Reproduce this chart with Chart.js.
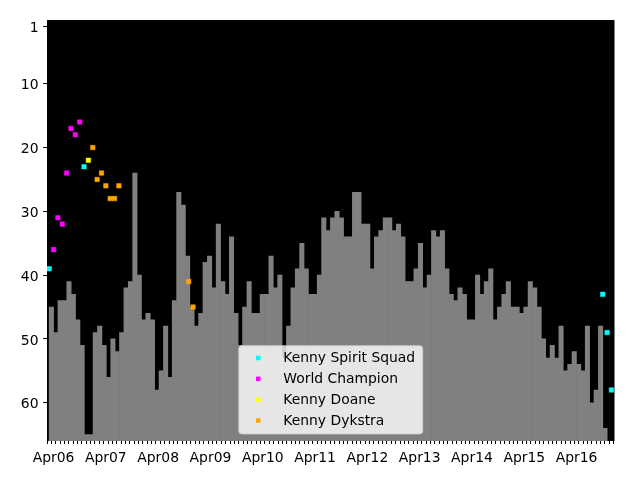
<!DOCTYPE html>
<html>
<head>
<meta charset="utf-8">
<script src="https://cdn.jsdelivr.net/npm/chart.js@4.4.0/dist/chart.umd.min.js"></script>
<style>
  html, body { margin: 0; padding: 0; background: #fff; }
  #wrap { width: 640px; height: 480px; }
</style>
</head>
<body>
<div id="wrap"><canvas id="chart" width="640" height="480"></canvas></div>
<script>
// rank per period, first period starts Mar 2006
const rankBars = [
  45, 49, 44, 44, 41, 43, 47, 51, 65, 65, 49, 48, 51, 56, 50, 52, 49, 42, 41, 24,
  40, 47, 46, 47, 58, 55, 48, 56, 44, 27, 29, 37, 45, 48, 46, 38, 37, 42, 32, 41,
  43, 34, 46, 51, 45, 41, 46, 46, 43, 43, 37, 42, 40, 53, 48, 42, 39, 35, 39, 43,
  43, 40, 31, 33, 31, 30, 31, 34, 34, 27, 27, 32, 32, 39, 34, 33, 31, 31, 33, 32,
  34, 41, 41, 39, 35, 42, 40, 33, 34, 33, 39, 43, 44, 42, 43, 47, 47, 40, 43,
  41, 39, 47, 45, 43, 41, 45, 45, 46, 45, 41, 42, 45, 50, 53, 51, 53, 48, 55, 54,
  52, 54, 55, 48, 60, 58, 48, 64
];

// title reigns: month index (0 = Mar 2006) and rank
const spiritSquadMonths = [0, 8, 127, 128, 129];
const spiritSquadRanks  = [39, 23, 43, 49, 58];
const championMonths = [1, 2, 3, 4, 5, 6, 7];
const championRanks  = [36, 31, 32, 24, 17, 18, 16];
const doaneMonths = [9];
const doaneRanks  = [22];
const dykstraMonths = [10, 11, 12, 13, 14, 15, 16, 32, 33];
const dykstraRanks  = [20, 25, 24, 26, 28, 28, 26, 41, 45];

const tickMonths = [1, 13, 25, 37, 49, 61, 73, 85, 97, 109, 121];
const tickLabels = ['Apr06', 'Apr07', 'Apr08', 'Apr09', 'Apr10', 'Apr11', 'Apr12', 'Apr13', 'Apr14', 'Apr15', 'Apr16'];
const rankTicks = [1, 10, 20, 30, 40, 50, 60];

const RANK_BOTTOM = 66;
const FONT = 'DejaVu Sans';
const FS = 13.9;

function points(months, ranks) {
  return months.map((m, i) => ({ x: m, y: ranks[i] }));
}

function scatterSet(label, color, months, ranks, order) {
  return {
    type: 'scatter',
    label: label,
    data: points(months, ranks),
    backgroundColor: color,
    borderColor: color,
    borderWidth: 0.5,
    pointStyle: 'rect',
    pointRadius: 3.2,
    order: order
  };
}

const blackArea = {
  id: 'blackArea',
  beforeDatasetsDraw(chart) {
    const a = chart.chartArea, ctx = chart.ctx;
    ctx.save();
    ctx.fillStyle = '#000';
    ctx.fillRect(a.left, a.top, a.right - a.left, a.bottom - a.top);
    ctx.restore();
  }
};

// matplotlib-like "lower center" legend drawn over the plot
const lowerLegend = {
  id: 'lowerLegend',
  afterDraw(chart) {
    const ctx = chart.ctx, a = chart.chartArea;
    const items = chart.data.datasets.filter(d => d.type === 'scatter');
    ctx.save();
    ctx.font = FS + 'px "' + FONT + '"';
    const textW = Math.max(...items.map(d => ctx.measureText(d.label).width));
    const pad = 0.4 * FS, handle = 2 * FS, gap = 0.8 * FS, rowH = 1.5 * FS;
    const w = pad + handle + gap + textW + pad + 2;
    const h = 4 * rowH + 4.9;
    const x = (a.left + a.right) / 2 - w / 2;
    const y = a.bottom - 7 - h;
    ctx.beginPath();
    ctx.roundRect(x, y, w, h, 3);
    ctx.fillStyle = 'rgba(255,255,255,0.8)';
    ctx.fill();
    ctx.strokeStyle = 'rgba(204,204,204,0.8)';
    ctx.lineWidth = 1;
    ctx.stroke();
    items.forEach((d, i) => {
      const cy = y + 12.3 + i * rowH;
      const cx = x + pad + handle / 2;
      ctx.fillStyle = d.backgroundColor;
      ctx.fillRect(cx - 2.25, cy - 2.25, 4.5, 4.5);
      ctx.fillStyle = '#000';
      ctx.textBaseline = 'middle';
      ctx.textAlign = 'left';
      ctx.fillText(d.label, x + pad + handle + gap, cy + 0.5);
    });
    ctx.restore();
  }
};

// one period wide, measured on the bar scale
function periodWidth(ctx) {
  const s = ctx.chart.scales.xb;
  return s.getPixelForValue(1) - s.getPixelForValue(0);
}

setTimeout(() => {
  const ctx = document.getElementById('chart').getContext('2d');
  new Chart(ctx, {
    type: 'bar',
    data: {
      datasets: [
        scatterSet('Kenny Spirit Squad', '#00ffff', spiritSquadMonths, spiritSquadRanks, 0),
        scatterSet('World Champion', '#ff00ff', championMonths, championRanks, 1),
        scatterSet('Kenny Doane', '#ffff00', doaneMonths, doaneRanks, 2),
        scatterSet('Kenny Dykstra', '#ffa500', dykstraMonths, dykstraRanks, 3),
        {
          type: 'bar',
          label: 'rank',
          xAxisID: 'xb',
          data: rankBars.map((r, i) => ({ x: i, y: [r, RANK_BOTTOM] })),
          backgroundColor: '#808080',
          borderWidth: 0,
          barPercentage: 1,
          categoryPercentage: 1,
          barThickness: periodWidth,
          inflateAmount: 0.33,
          order: 10
        }
      ]
    },
    options: {
      responsive: false,
      animation: false,
      events: [],
      layout: { padding: { top: 20, right: 25.5, left: 0, bottom: 0 } },
      plugins: { legend: { display: false }, tooltip: { enabled: false } },
      scales: {
        x: {
          type: 'linear',
          min: -0.5,
          max: 129.7,
          offset: false,
          afterBuildTicks: s => {
            const t = [];
            for (let m = 0; m <= 129; m++) t.push({ value: m });
            s.ticks = t;
          },
          afterFit: s => { s.height = 39; },
          grid: { display: true, drawOnChartArea: false, tickLength: 3, color: '#000', tickColor: '#000' },
          border: { display: false },
          ticks: {
            autoSkip: false,
            maxRotation: 0,
            padding: 6,
            color: '#000',
            font: { family: FONT, size: FS },
            callback: v => {
              const k = tickMonths.indexOf(v);
              return k >= 0 ? tickLabels[k] : '';
            }
          }
        },
        // periods are a little longer than a calendar month
        xb: {
          type: 'linear',
          display: false,
          min: -0.5,
          max: 128.66,
          offset: false,
          ticks: { autoSkip: false },
          afterBuildTicks: s => { s.ticks = rankBars.map((r, i) => ({ value: i })); }
        },
        y: {
          type: 'linear',
          reverse: true,
          min: 0,
          max: RANK_BOTTOM,
          afterBuildTicks: s => { s.ticks = rankTicks.map(v => ({ value: v })); },
          afterFit: s => { s.width = 47; },
          grid: { display: true, drawOnChartArea: false, tickLength: 4, color: '#000', tickColor: '#000' },
          border: { display: false },
          ticks: {
            padding: 4.5,
            labelOffset: 2,
            color: '#000',
            font: { family: FONT, size: FS }
          }
        }
      }
    },
    plugins: [blackArea, lowerLegend]
  });
}, 0);
</script>
</body>
</html>
